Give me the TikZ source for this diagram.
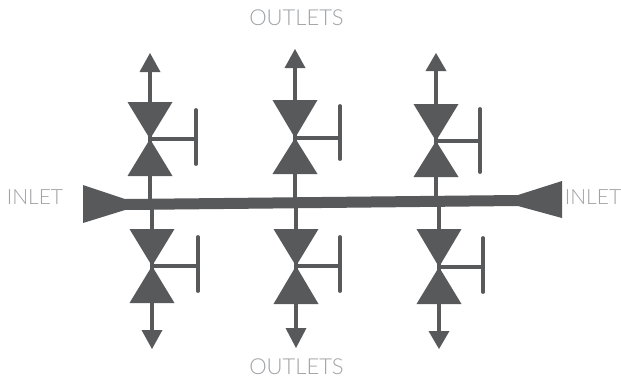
\documentclass[tikz,border=0pt]{standalone}
\usepackage{fontspec}
\setmainfont{Lato Light}[]
\usetikzlibrary{calc}
\definecolor{pipe}{HTML}{58595B}
\definecolor{lbl}{HTML}{A0A3A6}
\tikzset{
  solid part/.style={fill=pipe,draw=none},
  stem/.style={draw=pipe,line width=4pt},
  handle/.style={draw=pipe,line width=3.2pt},
  handlebar/.style={draw=pipe,line width=3.8pt,line cap=round},
  lbltext/.style={text=lbl,inner sep=0pt},
  outlettext/.style={lbltext,font=\fontsize{22}{26}\selectfont},
  inlettext/.style={lbltext,font=\fontsize{21}{25}\selectfont}
}
\newcommand\valvegroup[9]{%
  % #1 id; #2 apex; #3 outer base y; #4 inner base y; #5 handle x; #6 bar top; #7 bar bottom; #8 arrow base y; #9 arrow tip y
  \coordinate (#1a) at #2;
  \coordinate (#1o) at (#1a|-0,#3);
  \coordinate (#1i) at (#1a|-0,#4);
  \coordinate (#1b) at (#1a|-0,#8);
  \coordinate (#1t) at (#1a|-0,#9);
  \coordinate (#1hm) at (#5,0|-#1a);
  \coordinate (#1ht) at (#5,#6);
  \coordinate (#1hb) at (#5,#7);
  \path[solid part] (#1a) -- ($(#1o)+(-22.5,0)$) -- ($(#1o)+(22.5,0)$) -- cycle;
  \path[solid part] (#1a) -- ($(#1i)+(-22.5,0)$) -- ($(#1i)+(22.5,0)$) -- cycle;
  \draw[stem] (#1b) -- (#1a|-main);
  \path[solid part] (#1t) -- ($(#1b)+(-10.5,0)$) -- ($(#1b)+(10.5,0)$) -- cycle;
  \draw[handle] (#1a) -- (#1hm);
  \draw[handlebar] (#1ht) -- (#1hb);
}
\begin{document}
\begin{tikzpicture}[x=1pt,y=-1pt]
\useasboundingbox (0,0) rectangle (621,378);
\fill[white] (0,0) rectangle (621,378);
\coordinate (main) at (300,202);
\valvegroup{ua}{(150,139)}{102}{176}{196}{110}{164}{72}{53}
\valvegroup{ub}{(295,138)}{100}{174}{340}{106}{159}{68}{49}
\valvegroup{uc}{(436,141)}{104}{177}{480}{109}{172}{71}{53}
\valvegroup{la}{(152,266)}{303}{229}{198}{237}{291}{330}{349}
\valvegroup{lb}{(296,266)}{304}{229}{340}{237}{291}{328}{348}
\valvegroup{lc}{(439,267)}{304}{229}{483}{238}{292}{331}{349}
\coordinate (lt) at (83,185);
\coordinate (lb2) at (83,223);
\coordinate (lm1) at (125,199);
\coordinate (lm2) at (125,210);
\coordinate (rt) at (562,181);
\coordinate (rb) at (562,218);
\coordinate (rm1) at (518,195);
\coordinate (rm2) at (518,206);
\path[solid part] (lt) -- (lm1) -- (rm1) -- (rt) -- (rb) -- (rm2) -- (lm2) -- (lb2) -- cycle;
\node[outlettext] (o1) at (296.5,18) {OUTLETS};
\node[outlettext] (o2) at (296.5,367) {OUTLETS};
\node[inlettext] (i1) at (35,197) {INLET};
\node[inlettext] (i2) at (593,197) {INLET};
\end{tikzpicture}
\end{document}
